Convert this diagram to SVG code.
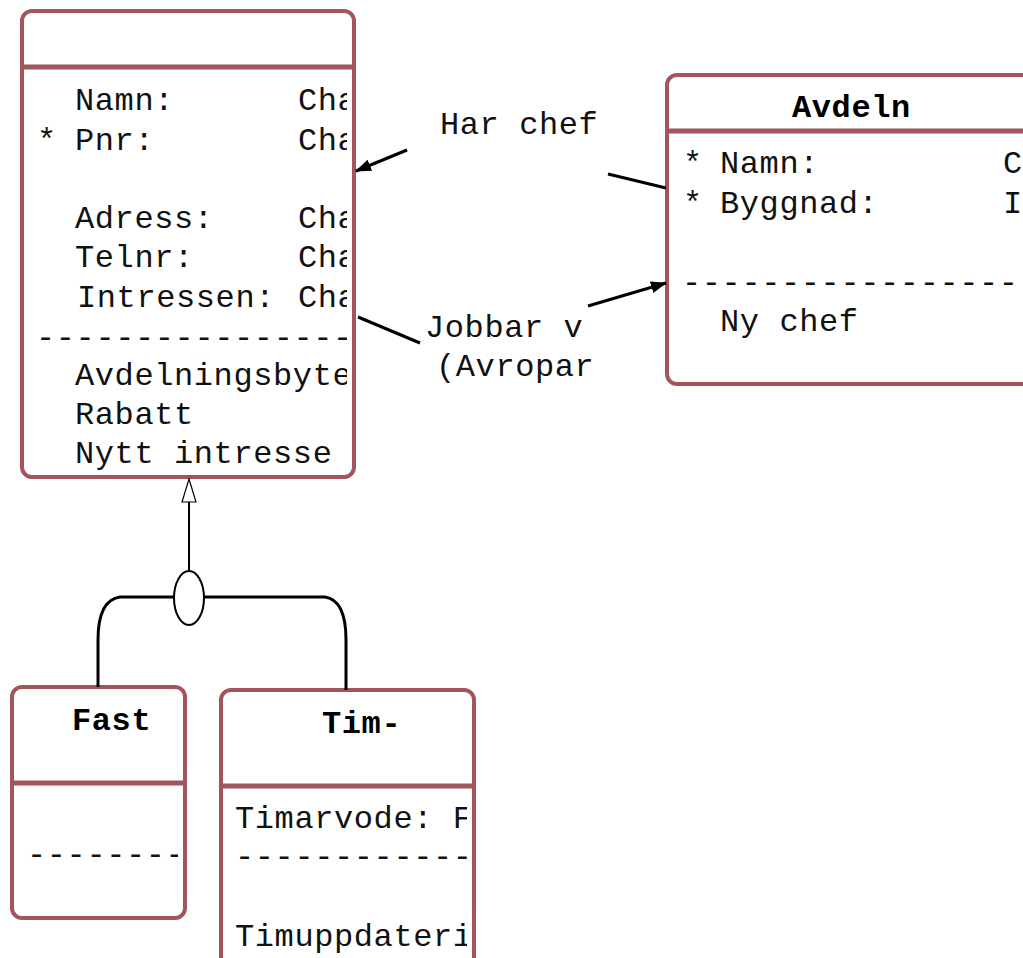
<svg xmlns="http://www.w3.org/2000/svg" width="1023" height="958" viewBox="0 0 1023 958">
<style>
.box{fill:#fff;stroke:#a0565b;stroke-width:4}
.sep{stroke:#a0565b;stroke-width:5}
.t{font-family:"Liberation Mono","Courier New",monospace;font-size:32px;letter-spacing:0.6px;fill:#111}
.b{font-weight:bold;fill:#000}
.ln{stroke:#000;stroke-width:3;fill:none}
</style>
<defs>
<marker id="arr" markerWidth="16" markerHeight="12" refX="15" refY="6" orient="auto" markerUnits="userSpaceOnUse" viewBox="0 0 16 12"><path d="M0,0 L16,6 L0,12 Z" fill="#000"/></marker>
<clipPath id="cP"><rect x="24" y="13" width="323" height="462"/></clipPath>
<clipPath id="cA"><rect x="669" y="77" width="360" height="305"/></clipPath>
<clipPath id="cF"><rect x="14" y="689" width="164" height="227"/></clipPath>
<clipPath id="cT"><rect x="223" y="692" width="244" height="266"/></clipPath>
</defs>
<rect width="1023" height="958" fill="#fff"/>
<g id="person">
<rect class="box" x="22" y="11" width="332" height="466" rx="10"/>
<line class="sep" x1="22" y1="67" x2="356" y2="67"/>
<g clip-path="url(#cP)" class="t">
<text x="75" y="110">Namn:</text><text x="298" y="110">Cha</text>
<text x="37" y="150">*</text><text x="75" y="150">Pnr:</text><text x="298" y="150">Cha</text>
<text x="75" y="228">Adress:</text><text x="298" y="228">Cha</text>
<text x="75" y="267">Telnr:</text><text x="298" y="267">Cha</text>
<text x="77" y="307">Intressen:</text><text x="298" y="307">Cha</text>
<text x="36" y="347">------------------</text>
<text x="75" y="385">Avdelningsbyte</text>
<text x="75" y="424">Rabatt</text>
<text x="75" y="463">Nytt intresse</text>
</g>
</g>
<g id="avdeln">
<rect class="box" x="667" y="75" width="380" height="309" rx="10"/>
<line class="sep" x1="667" y1="131" x2="1023" y2="131"/>
<g clip-path="url(#cA)" class="t">
<text x="792" y="117" class="b">Avdeln</text>
<text x="683" y="173">*</text><text x="720" y="173">Namn:</text><text x="1003" y="173">C</text>
<text x="683" y="213">*</text><text x="720" y="213">Byggnad:</text><text x="1003" y="213">I</text>
<text x="682" y="292">-----------------</text>
<text x="720" y="331">Ny chef</text>
</g>
</g>
<g id="fast">
<rect class="box" x="12" y="687" width="173" height="231" rx="10"/>
<line class="sep" x1="12" y1="783" x2="187" y2="783"/>
<g clip-path="url(#cF)" class="t">
<text x="72" y="730" class="b">Fast</text>
<text x="27" y="864">---------</text>
</g>
</g>
<g id="tim">
<rect class="box" x="221" y="690" width="253" height="280" rx="10"/>
<line class="sep" x1="221" y1="786" x2="476" y2="786"/>
<g clip-path="url(#cT)" class="t">
<text x="322" y="733" class="b">Tim-</text>
<text x="235" y="828">Timarvode: F</text>
<text x="235" y="866">------------</text>
<text x="235" y="946">Timuppdateri</text>
</g>
</g>
<g id="connectors">
<line class="ln" x1="407" y1="150" x2="356" y2="171" marker-end="url(#arr)"/>
<line class="ln" x1="608" y1="174" x2="666" y2="188"/>
<line class="ln" x1="358" y1="317" x2="420" y2="343"/>
<line class="ln" x1="588" y1="306" x2="666" y2="283" marker-end="url(#arr)"/>
<line stroke="#000" stroke-width="2" x1="189" y1="502" x2="189" y2="571"/>
<path d="M189,479 L196,502 L182,502 Z" fill="#fff" stroke="#000" stroke-width="1.2"/>
<ellipse cx="189" cy="598" rx="15" ry="27" fill="#fff" stroke="#000" stroke-width="2"/>
<path class="ln" d="M174,597 L120,597 Q98,600 98,640 L98,687"/>
<path class="ln" d="M204,597 L325,597 Q346,600 346,640 L346,690"/>
</g>
<g id="labels" class="t">
<text x="440" y="134">Har chef</text>
<text x="425" y="337">Jobbar v</text>
<text x="436" y="376">(Avropar</text>
</g>
</svg>
